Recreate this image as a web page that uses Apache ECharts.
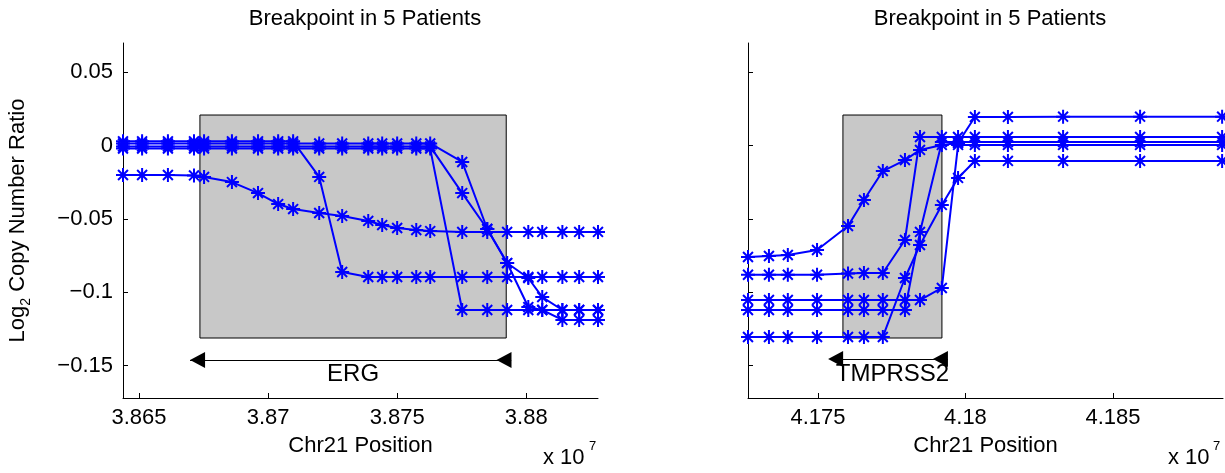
<!DOCTYPE html>
<html>
<head>
<meta charset="utf-8">
<script src="https://cdn.jsdelivr.net/npm/echarts@6/dist/echarts.min.js"></script>
<style>
  html, body { margin: 0; padding: 0; background: #fff; }
  #chart { width: 1225px; height: 473px; }
</style>
</head>
<body>
<div id="chart"></div>
<script>
// probe positions (Chr21), left = ERG region, right = TMPRSS2 region
const leftPos = [38643800, 38651200, 38661200, 38671300, 38675200, 38686000, 38696100, 38703900,
  38709700, 38719800, 38728700, 38738800, 38744200, 38750000, 38757400, 38762800,
  38775200, 38784900, 38792600, 38800800, 38806200, 38814000, 38820500, 38827800];
const rightPos = [41726300, 41733400, 41739800, 41749700, 41760200, 41765600, 41772000, 41779500,
  41784600, 41792000, 41797500, 41803200, 41814400, 41833100, 41859200, 41887000];

// log2 copy number ratio, one array per patient
const ergP1 = [-0.0200, -0.0200, -0.0200, -0.0203, -0.0213, -0.0248, -0.0323, -0.0398, -0.0432, -0.0459,
  -0.0479, -0.0513, -0.0541, -0.0561, -0.0575, -0.0582, -0.0588, -0.0588, -0.0588, -0.0588,
  -0.0588, -0.0588, -0.0588, -0.0588];
const ergP2 = [0.003, 0.003, 0.003, 0.003, 0.003, 0.003, 0.003, 0.003, 0.003, -0.0213,
  -0.0861, -0.0895, -0.0895, -0.0895, -0.0895, -0.0895, -0.0895, -0.0895, -0.0895, -0.0895,
  -0.0895, -0.0895, -0.0895, -0.0895];
const ergP3 = [0.0015, 0.0015, 0.0015, 0.0015, 0.0015, 0.0015, 0.0015, 0.0015, 0.0015, 0.0015,
  0.0015, 0.0015, 0.0015, 0.0015, 0.0015, 0.0015, -0.0111, -0.0568, -0.080, -0.0902,
  -0.1032, -0.112, -0.112, -0.112];
const ergP4 = [-0.0005, -0.0005, -0.0005, -0.0005, -0.0005, -0.0005, -0.0005, -0.0005, -0.0005, -0.0005,
  -0.0005, -0.0005, -0.0005, -0.0005, -0.0005, -0.0005, -0.0323, -0.0568, -0.080, -0.110,
  -0.112, -0.1188, -0.1188, -0.1188];
const ergP5 = [-0.002, -0.002, -0.002, -0.002, -0.002, -0.002, -0.002, -0.002, -0.002, -0.002,
  -0.002, -0.002, -0.002, -0.002, -0.002, -0.002, -0.112, -0.112, -0.112, -0.112,
  -0.112, -0.112, -0.112, -0.112];

const tmpP1 = [-0.0759, -0.0752, -0.0745, -0.0711, -0.0548, -0.0370, -0.0173, -0.0098, -0.0029, 0.0005,
  0.0018, 0.0196, 0.0196, 0.0198, 0.0198, 0.0198];
const tmpP2 = [-0.088, -0.088, -0.088, -0.088, -0.0872, -0.0868, -0.0868, -0.0643, 0.0059, 0.0059,
  0.0059, 0.0059, 0.0059, 0.0059, 0.0059, 0.0059];
const tmpP3 = [-0.1052, -0.1052, -0.1052, -0.1052, -0.1052, -0.1052, -0.1052, -0.1052, -0.1052, -0.097,
  0.0005, 0.0005, 0.0005, 0.0005, 0.0005, 0.0005];
const tmpP4 = [-0.112, -0.112, -0.112, -0.112, -0.112, -0.112, -0.112, -0.112, -0.0588, 0.0025,
  0.0025, 0.0025, 0.0025, 0.0025, 0.0025, 0.0025];
const tmpP5 = [-0.1304, -0.1304, -0.1304, -0.1304, -0.1304, -0.1304, -0.1304, -0.0902, -0.0677, -0.0404,
  -0.0220, -0.0104, -0.0104, -0.0104, -0.0104, -0.0104];

// tick labels
const leftXTicks = [38650000, 38700000, 38750000, 38800000];
const rightXTicks = [41750000, 41800000, 41850000];
const yTicks = [-0.15, -0.1, -0.05, 0, 0.05];

// gene extents (box) and arrow annotations
const ergBox = [38673600, 38792250];
const ergArrow = [38669770, 38794190];
const tmpBox = [41758475, 41792034];
const tmpArrow = [41755085, 41794068];

const FONT = '"Liberation Sans", Arial, Helvetica, sans-serif';
const BLUE = '#0000ff';
const STAR = 'path://M0,-10L0,10M-10,0L10,0M-7.07,-7.07L7.07,7.07M-7.07,7.07L7.07,-7.07';

const chart = echarts.init(document.getElementById('chart'));

const fmtX = v => String(parseFloat((v / 1e7).toFixed(4)));
const fmtY = v => v === 0 ? '0' : (v < 0 ? '\u2212' + String(Math.abs(v)) : String(v));

const xAxisBase = (gi, min, max, ticks) => ({
  gridIndex: gi, type: 'value', min: min, max: max,
  axisLine: { show: true, onZero: false, lineStyle: { color: '#000', width: 1 } },
  axisTick: { show: true, inside: true, length: 5, customValues: ticks, lineStyle: { color: '#000' } },
  axisLabel: { customValues: ticks, formatter: fmtX, fontSize: 22, color: '#000', margin: 9, fontFamily: FONT },
  splitLine: { show: false },
  name: 'Chr21 Position', nameLocation: 'middle', nameGap: 37,
  nameTextStyle: { fontSize: 22, color: '#000', fontFamily: FONT }
});

const yAxisBase = (gi, showLabel) => ({
  gridIndex: gi, type: 'value', min: -0.172, max: 0.07,
  axisLine: { show: true, onZero: false, lineStyle: { color: '#000', width: 1 } },
  axisTick: { show: true, inside: true, length: 5, customValues: yTicks, lineStyle: { color: '#000' } },
  axisLabel: { show: showLabel, customValues: yTicks, formatter: fmtY, fontSize: 22, color: '#000', margin: 10, fontFamily: FONT },
  splitLine: { show: false }
});

const line = (name, pos, ys, gi) => ({
  name: name, type: 'line', xAxisIndex: gi, yAxisIndex: gi,
  data: pos.map((x, i) => [x, ys[i]]),
  symbol: STAR, symbolSize: 14, showAllSymbol: true, clip: false,
  lineStyle: { color: BLUE, width: 2 },
  itemStyle: { color: BLUE, borderColor: BLUE, borderWidth: 2 },
  emphasis: { disabled: true },
  z: 3
});

const geneLayer = (gi, box, arrow, arrowY, label) => ({
  type: 'line', xAxisIndex: gi, yAxisIndex: gi, data: [], z: 1, silent: true,
  markArea: {
    silent: true,
    itemStyle: { color: '#c8c8c8', borderColor: '#000', borderWidth: 1 },
    data: [[{ coord: [box[0], 0.0209] }, { coord: [box[1], -0.1311] }]]
  },
  markLine: {
    silent: true, symbol: ['none', 'none'],
    lineStyle: { color: '#000', width: 1, type: 'solid' },
    label: { show: false },
    data: [[{ coord: [arrow[0], arrowY] }, { coord: [arrow[1], arrowY] }]]
  },
  markPoint: {
    silent: true,
    label: { show: false },
    data: [
      { coord: [arrow[0] + (arrow[1] - arrow[0]) * 0.0235, arrowY], symbol: 'triangle', symbolSize: [16, 15], symbolRotate: 90, itemStyle: { color: '#000' } },
      { coord: [arrow[1] - (arrow[1] - arrow[0]) * (gi === 0 ? 0.0225 : 0.065), arrowY], symbol: 'triangle', symbolSize: [16, 15], symbolRotate: 90, itemStyle: { color: '#000' } },
      { coord: [(box[0] + box[1]) / 2, -0.1556], symbol: 'rect', symbolSize: 1,
        itemStyle: { color: 'rgba(0,0,0,0)' },
        label: { show: true, position: 'inside', formatter: label, fontSize: 24, color: '#000', fontFamily: FONT } }
    ]
  }
});

const option = {
  animation: false,
  backgroundColor: '#fff',
  title: [
    { text: 'Breakpoint in 5 Patients', left: 360, top: 3, textAlign: 'center',
      textStyle: { fontSize: 22, fontWeight: 'normal', color: '#000', fontFamily: FONT } },
    { text: 'Breakpoint in 5 Patients', left: 985, top: 3, textAlign: 'center',
      textStyle: { fontSize: 22, fontWeight: 'normal', color: '#000', fontFamily: FONT } }
  ],
  grid: [
    { left: 123, top: 43, width: 475, height: 355, containLabel: false },
    { left: 748, top: 43, width: 475, height: 355, containLabel: false }
  ],
  xAxis: [
    xAxisBase(0, 38643800, 38827800, leftXTicks),
    xAxisBase(1, 41726300, 41887300, rightXTicks)
  ],
  yAxis: [
    Object.assign(yAxisBase(0, true), {
      name: 'Log{sub|2} Copy Number Ratio', nameLocation: 'middle', nameRotate: 90, nameGap: 90,
      nameTextStyle: {
        fontSize: 22, lineHeight: 30, color: '#000', fontFamily: FONT,
        rich: { sub: { fontSize: 14, lineHeight: 14, verticalAlign: 'bottom', color: '#000', fontFamily: FONT } }
      }
    }),
    yAxisBase(1, false)
  ],
  graphic: [
    { type: 'text', left: 543, top: 447, style: { text: 'x 10', fontSize: 22, fontFamily: FONT, fill: '#000' } },
    { type: 'text', left: 589, top: 440, style: { text: '7', fontSize: 13, fontFamily: FONT, fill: '#000' } },
    { type: 'text', left: 1168, top: 447, style: { text: 'x 10', fontSize: 22, fontFamily: FONT, fill: '#000' } },
    { type: 'text', left: 1213, top: 440, style: { text: '7', fontSize: 13, fontFamily: FONT, fill: '#000' } }
  ],
  series: [
    geneLayer(0, ergBox, ergArrow, -0.1461, 'ERG'),
    geneLayer(1, tmpBox, tmpArrow, -0.1454, 'TMPRSS2'),
    line('P1', leftPos, ergP1, 0),
    line('P2', leftPos, ergP2, 0),
    line('P3', leftPos, ergP3, 0),
    line('P4', leftPos, ergP4, 0),
    line('P5', leftPos, ergP5, 0),
    line('P1', rightPos, tmpP1, 1),
    line('P2', rightPos, tmpP2, 1),
    line('P3', rightPos, tmpP3, 1),
    line('P4', rightPos, tmpP4, 1),
    line('P5', rightPos, tmpP5, 1)
  ]
};

chart.setOption(option);
</script>
</body>
</html>
